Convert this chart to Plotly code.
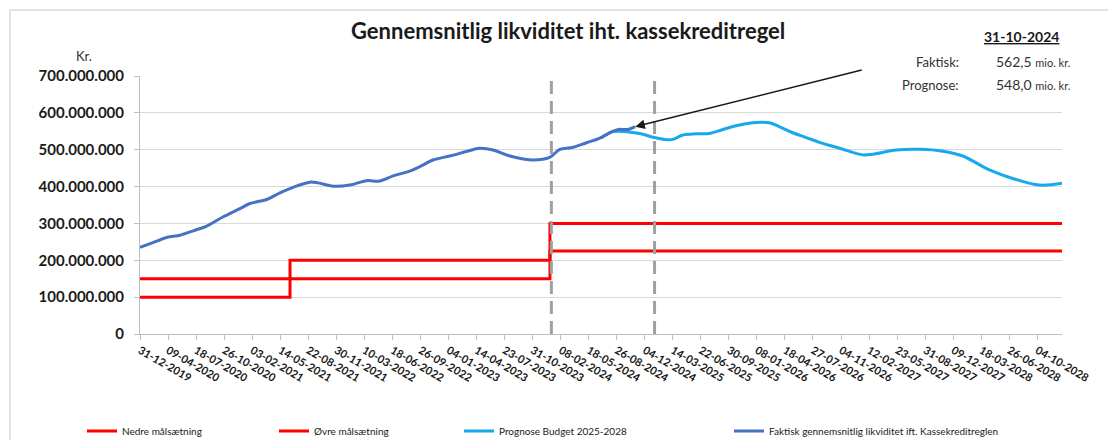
import plotly.graph_objects as go
from datetime import datetime

# ---------------- data ----------------
tick_labels = ["31-12-2019", "09-04-2020", "18-07-2020", "26-10-2020", "03-02-2021", "14-05-2021",
               "22-08-2021", "30-11-2021", "10-03-2022", "18-06-2022", "26-09-2022", "04-01-2023",
               "14-04-2023", "23-07-2023", "31-10-2023", "08-02-2024", "18-05-2024", "26-08-2024",
               "04-12-2024", "14-03-2025", "22-06-2025", "30-09-2025", "08-01-2026", "18-04-2026",
               "27-07-2026", "04-11-2026", "12-02-2027", "23-05-2027", "31-08-2027", "09-12-2027",
               "18-03-2028", "26-06-2028", "04-10-2028"]

nedre_dates = ["2019-12-31", "2021-06-18", "2024-01-01", "2028-12-31"]
nedre_values = [100e6, 150e6, 225e6, 225e6]

oevre_dates = ["2019-12-31", "2021-06-18", "2024-01-01", "2028-12-31"]
oevre_values = [150e6, 200e6, 300e6, 300e6]

faktisk_dates = ["2019-12-31", "2020-02-15", "2020-04-04", "2020-05-22", "2020-07-08", "2020-08-25",
                 "2020-10-23", "2020-12-21", "2021-01-26", "2021-03-27", "2021-05-13", "2021-06-29",
                 "2021-08-28", "2021-09-26", "2021-11-19", "2022-01-17", "2022-03-18", "2022-05-04",
                 "2022-06-21", "2022-08-19", "2022-09-24", "2022-11-10", "2023-01-09", "2023-03-09",
                 "2023-04-26", "2023-06-12", "2023-08-11", "2023-11-02", "2023-12-31", "2024-02-05",
                 "2024-03-20", "2024-05-10", "2024-06-25", "2024-08-10", "2024-09-01", "2024-10-05",
                 "2024-10-31"]
faktisk_values = [235e6, 248e6, 262e6, 268e6, 280e6, 293e6,
                  318e6, 340e6, 354e6, 365e6, 383e6, 398e6,
                  412e6, 410e6, 401e6, 404e6, 416e6, 415e6,
                  429e6, 442e6, 454e6, 472e6, 483e6, 495e6,
                  504e6, 499e6, 483e6, 472e6, 479e6, 501e6,
                  506e6, 519e6, 531e6, 549e6, 555e6, 555e6,
                  562.5e6]

prognose_dates = ["2024-07-01", "2024-08-13", "2024-09-29", "2024-11-16", "2025-01-08", "2025-02-13",
                  "2025-03-15", "2025-04-19", "2025-06-06", "2025-07-23", "2025-09-09", "2025-11-07",
                  "2026-01-06", "2026-02-22", "2026-03-30", "2026-05-16", "2026-07-03", "2026-08-19",
                  "2026-10-30", "2027-01-21", "2027-02-25", "2027-05-20", "2027-08-11", "2027-11-02",
                  "2028-01-12", "2028-04-16", "2028-07-08", "2028-10-11", "2028-12-31"]
prognose_values = [532e6, 549e6, 549e6, 544e6, 533e6, 528e6,
                   528e6, 540e6, 543e6, 544e6, 555e6, 567e6,
                   574e6, 573e6, 562e6, 546e6, 533e6, 520e6,
                   504e6, 486e6, 488e6, 499e6, 501e6, 496e6,
                   483e6, 445e6, 422e6, 404e6, 409e6]

dashed_dates = ["2024-01-06", "2025-01-08"]

# ---------------- figure ----------------
tick_vals = [datetime.strptime(t, "%d-%m-%Y").strftime("%Y-%m-%d") for t in tick_labels]

FONT = "Lato"
OFF = 8  # page body margin
fig = go.Figure()

fig.add_trace(go.Scatter(x=nedre_dates, y=nedre_values, mode="lines", line_shape="hv",
                         line=dict(color="#ff0000", width=3), name="Nedre målsætning", legend="legend"))
fig.add_trace(go.Scatter(x=oevre_dates, y=oevre_values, mode="lines", line_shape="hv",
                         line=dict(color="#ff0000", width=3), name="Øvre målsætning", legend="legend2"))
fig.add_trace(go.Scatter(x=prognose_dates, y=prognose_values, mode="lines", line_shape="spline",
                         line=dict(color="#17a9ee", width=3), name="Prognose Budget 2025-2028",
                         legend="legend3"))
fig.add_trace(go.Scatter(x=faktisk_dates, y=faktisk_values, mode="lines", line_shape="spline",
                         line=dict(color="#4472c4", width=3),
                         name="Faktisk gennemsnitlig likviditet ift. Kassekreditreglen", legend="legend4"))

# target plot area in screen pixels
X0, X1, Y0, Y1 = 140, 1062, 76, 334
W, H = 1116, 440
L = X0 - OFF
T = Y0 - OFF
R = W - (X1 - OFF)
B = H - (Y1 - OFF)
pw, ph = X1 - X0, Y1 - Y0


def px(x):
    return (x - X0) / pw


def py(y):
    return (Y1 - y) / ph


legend_common = dict(orientation="h", yanchor="middle", y=py(431), xanchor="left",
                     font=dict(family=FONT, size=10, color="#1a1a1a"), bgcolor="rgba(0,0,0,0)",
                     itemwidth=30, tracegroupgap=0)
fig.update_layout(
    showlegend=True,
    legend=dict(x=px(82), **legend_common),
    legend2=dict(x=px(274), **legend_common),
    legend3=dict(x=px(459), **legend_common),
    legend4=dict(x=px(729), **legend_common),
)

shapes = []
for d in dashed_dates:
    shapes.append(dict(type="line", xref="x", yref="paper", x0=d, x1=d, y0=0, y1=1,
                       line=dict(color="#a0a0a0", width=3, dash="13px,7px"), layer="above"))
# outer frame
shapes.append(dict(type="line", xref="paper", yref="paper", x0=px(10), x1=px(1130), y0=py(10), y1=py(10),
                   line=dict(color="#d9d9d9", width=1.5)))
shapes.append(dict(type="line", xref="paper", yref="paper", x0=px(10), x1=px(10), y0=py(10), y1=py(460),
                   line=dict(color="#d9d9d9", width=1.5)))


def note(text, x, y, size, xanchor="center", color="#333333"):
    return dict(text=text, xref="paper", yref="paper", x=px(x), y=py(y), xanchor=xanchor,
                yanchor="middle", showarrow=False, font=dict(family=FONT, size=size, color=color))


annotations = [
    note("<b>Gennemsnitlig likviditet iht. kassekreditregel</b>", 568, 31, 22, color="#1a1a1a"),
    note("Kr.", 84, 56, 13),
    note("<b><u>31-10-2024</u></b>", 1021, 37, 14, color="#1a1a1a"),
    note("Faktisk:", 961, 62, 13, xanchor="right"),
    note("562,5 <span style='font-size:11px'>mio. kr.</span>", 994, 62, 14, xanchor="left"),
    note("Prognose:", 961, 85, 13, xanchor="right"),
    note("548,0 <span style='font-size:11px'>mio. kr.</span>", 994, 85, 14, xanchor="left"),
    dict(text="", x=faktisk_dates[-1], y=faktisk_values[-1], xref="x", yref="y", showarrow=True,
         ax=228, ay=-57, arrowhead=2, arrowsize=1.2, arrowwidth=1.6, arrowcolor="#1a1a1a", standoff=0),
]

fig.update_layout(
    width=W, height=H,
    margin=dict(l=L, r=R, t=T, b=B, autoexpand=False),
    paper_bgcolor="white", plot_bgcolor="white",
    separators=",.",
    shapes=shapes, annotations=annotations,
    font=dict(family=FONT, color="#1a1a1a"),
    xaxis=dict(type="date", range=["2019-12-31", "2028-12-31"], tickvals=tick_vals, ticktext=tick_labels,
               tickangle=30, tickfont=dict(family=FONT, size=11, color="#1a1a1a", weight="bold"),
               showgrid=False, showline=True, linecolor="#bfbfbf", linewidth=1,
               ticks="outside", ticklen=5, tickcolor="#bfbfbf", zeroline=False),
    yaxis=dict(range=[0, 700e6], dtick=100e6, tickformat=",d",
               tickfont=dict(family=FONT, size=15, color="#1a1a1a", weight="bold"),
               ticklabelstandoff=7,
               showgrid=True, gridcolor="#d9d9d9", gridwidth=1,
               showline=True, linecolor="#bfbfbf", linewidth=1,
               ticks="outside", ticklen=5, tickcolor="#bfbfbf", zeroline=False),
)

fig.write_html("out.html")
